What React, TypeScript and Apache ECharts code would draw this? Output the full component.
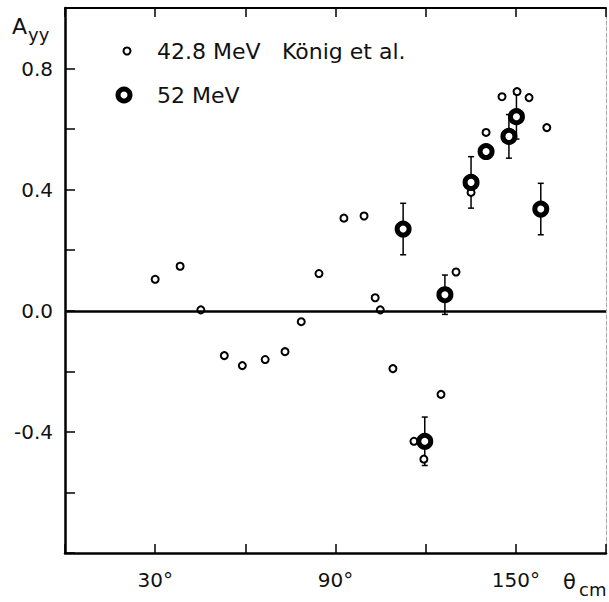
import React, { useEffect, useRef } from "react";
import * as echarts from "echarts";

// 42.8 MeV König et al. (small open circles)
const smallX = [30, 38.3, 45.2, 53, 59, 66.6, 73.2, 78.6, 84.5, 92.8, 99.5, 103.2, 104.9, 109.1, 116.1, 119.4, 125.1, 130.1, 135.1, 140.1, 145.4, 150.4, 154.4, 160.3];
const smallY = [0.104, 0.147, 0.003, -0.148, -0.181, -0.161, -0.135, -0.036, 0.123, 0.306, 0.313, 0.043, 0.003, -0.191, -0.431, -0.49, -0.276, 0.128, 0.391, 0.589, 0.707, 0.724, 0.704, 0.605];

// 52 MeV (large rings with error bars)
const bigX = [112.5, 119.7, 126.4, 135.1, 140.1, 147.7, 150.2, 158.3];
const bigY = [0.27, -0.431, 0.053, 0.424, 0.526, 0.576, 0.641, 0.336];
const bigErr = [0.085, 0.08, 0.065, 0.085, 0.02, 0.072, 0.074, 0.085];

const xTickLabels = [30, 90, 150];
const yTickLabels = [-0.4, 0, 0.4, 0.8];

const FONT = '"DejaVu Sans", sans-serif';

export default function App() {
  const ref = useRef<HTMLDivElement>(null);
  useEffect(() => {
    const chart = echarts.init(ref.current!, null, { renderer: "svg" });
    const option: any = {
      animation: false,
      backgroundColor: "#fff",
      grid: { left: 65, right: 1, top: 8, bottom: 49 },
      xAxis: [
        {
          type: "value",
          position: "bottom",
          min: 0,
          max: 180,
          interval: 30,
          axisLine: { show: true, onZero: false, lineStyle: { color: "#000", width: 2.5 } },
          axisTick: { show: true, inside: true, length: 9, lineStyle: { color: "#000", width: 1.5 } },
          axisLabel: {
            show: true,
            margin: 17,
            fontSize: 20,
            fontFamily: FONT,
            color: "#111",
            formatter: (v: number) => (xTickLabels.includes(v) ? v + "°" : ""),
          },
          splitLine: { show: false },
        },
        {
          type: "value",
          position: "top",
          min: 0,
          max: 180,
          interval: 30,
          axisLine: { show: true, onZero: false, lineStyle: { color: "#000", width: 2 } },
          axisTick: { show: true, inside: true, length: 9, lineStyle: { color: "#000", width: 1.5 } },
          axisLabel: { show: false },
          splitLine: { show: false },
        },
      ],
      yAxis: [
        {
          type: "value",
          position: "left",
          min: -0.8,
          max: 1.0,
          interval: 0.2,
          axisLine: { show: true, onZero: false, lineStyle: { color: "#000", width: 2.5 } },
          axisTick: { show: true, inside: true, length: 10, lineStyle: { color: "#000", width: 1.5 } },
          axisLabel: {
            show: true,
            margin: 12,
            fontSize: 20,
            fontFamily: FONT,
            color: "#111",
            align: "right",
            formatter: (v: number) =>
              yTickLabels.some((t) => Math.abs(t - v) < 1e-6) ? v.toFixed(1) : "",
          },
          splitLine: { show: false },
        },
        {
          type: "value",
          position: "right",
          min: -0.8,
          max: 1.0,
          interval: 0.2,
          axisLine: { show: true, onZero: false, lineStyle: { color: "#aaa", width: 1, type: "dashed" } },
          axisTick: { show: false },
          axisLabel: { show: false },
          splitLine: { show: false },
        },
      ],
      series: [
        {
          type: "line",
          data: [],
          silent: true,
          z: 4,
          markLine: {
            silent: true,
            z: 4,
            symbol: ["none", "none"],
            label: { show: false },
            lineStyle: { color: "#000", width: 2.5, type: "solid" },
            data: [{ yAxis: 0 }],
          },
        },
        {
          type: "custom",
          z: 2,
          silent: true,
          encode: { x: 0, y: 1 },
          data: bigX.map((x, i) => [x, bigY[i], bigErr[i]]),
          renderItem: (params: any, api: any) => {
            const x = api.value(0);
            const y = api.value(1);
            const e = api.value(2);
            const top = api.coord([x, y + e]);
            const bot = api.coord([x, y - e]);
            const hw = 3;
            const st = { stroke: "#000", lineWidth: 1.5 };
            return {
              type: "group",
              children: [
                { type: "line", shape: { x1: top[0], y1: top[1], x2: bot[0], y2: bot[1] }, style: st },
                { type: "line", shape: { x1: top[0] - hw, y1: top[1], x2: top[0] + hw, y2: top[1] }, style: st },
                { type: "line", shape: { x1: bot[0] - hw, y1: bot[1], x2: bot[0] + hw, y2: bot[1] }, style: st },
              ],
            };
          },
        },
        {
          type: "scatter",
          z: 3,
          symbol: "circle",
          symbolSize: 7,
          itemStyle: { color: "#fff", borderColor: "#000", borderWidth: 2, opacity: 1 },
          data: smallX.map((x, i) => [x, smallY[i]]),
        },
        {
          type: "scatter",
          z: 5,
          symbol: "circle",
          symbolSize: 12,
          itemStyle: { color: "#fff", borderColor: "#000", borderWidth: 5, opacity: 1 },
          data: bigX.map((x, i) => [x, bigY[i]]),
        },
      ],
      graphic: [
        { type: "circle", shape: { cx: 127, cy: 51, r: 3.5 }, style: { fill: "#fff", stroke: "#000", lineWidth: 2 } },
        { type: "circle", shape: { cx: 124, cy: 95, r: 6 }, style: { fill: "#fff", stroke: "#000", lineWidth: 5 } },
        { type: "text", x: 157, y: 51, style: { text: "42.8 MeV", font: `22px ${FONT}`, fill: "#111", textVerticalAlign: "middle", verticalAlign: "middle" } },
        { type: "text", x: 282, y: 51, style: { text: "König et al.", font: `22px ${FONT}`, fill: "#111", textVerticalAlign: "middle", verticalAlign: "middle" } },
        { type: "text", x: 157, y: 95, style: { text: "52 MeV", font: `22px ${FONT}`, fill: "#111", textVerticalAlign: "middle", verticalAlign: "middle" } },
        { type: "text", x: 12, y: 26, style: { text: "A", font: `22px ${FONT}`, fill: "#111", textVerticalAlign: "middle", verticalAlign: "middle" } },
        { type: "text", x: 28, y: 34, style: { text: "yy", font: `18px ${FONT}`, fill: "#111", textVerticalAlign: "middle", verticalAlign: "middle" } },
        { type: "text", x: 563, y: 582, style: { text: "θ", font: `21px ${FONT}`, fill: "#111", textVerticalAlign: "middle", verticalAlign: "middle" } },
        { type: "text", x: 579, y: 589, style: { text: "cm", font: `18px ${FONT}`, fill: "#111", textVerticalAlign: "middle", verticalAlign: "middle" } },
      ],
    };
    chart.setOption(option);
    return () => chart.dispose();
  }, []);
  return (
    <div
      ref={ref}
      style={{ position: "fixed", left: 0, top: 0, width: 609, height: 602, background: "#fff" }}
    />
  );
}
